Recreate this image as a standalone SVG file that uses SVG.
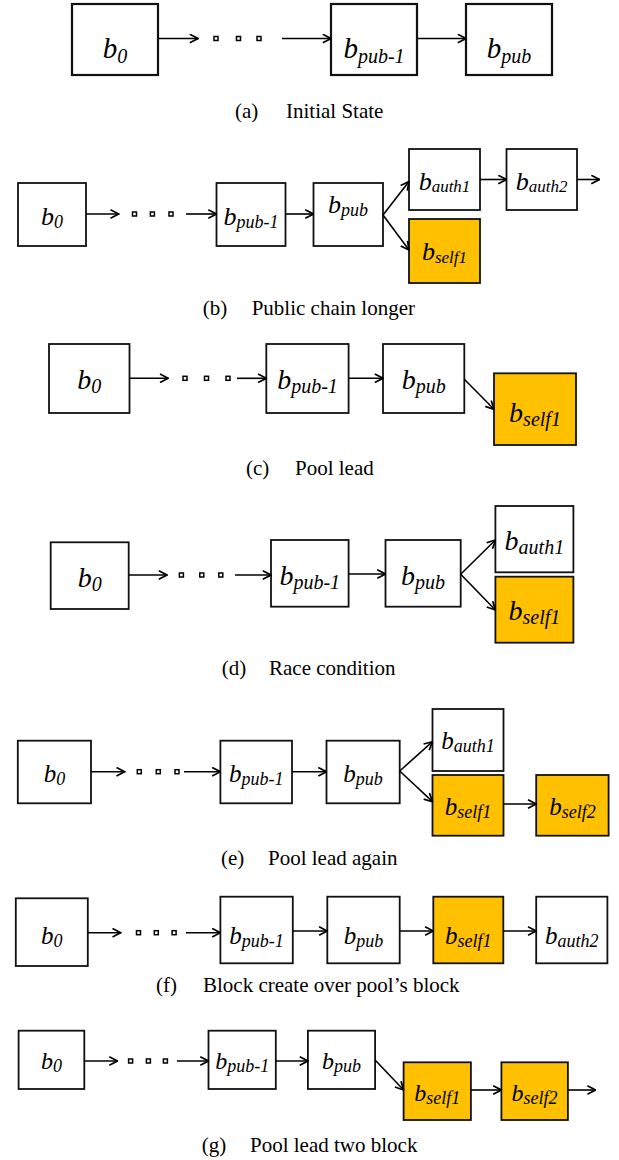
<svg xmlns="http://www.w3.org/2000/svg" width="619" height="1160" viewBox="0 0 619 1160">
<style>
.box{fill:#fff;stroke:#111;stroke-width:1.8}
.self{fill:#FFC000}
.thick{stroke-width:2.2}
.lbl{font-family:"Liberation Serif","Times New Roman",serif;font-style:italic;text-anchor:middle;fill:#000}
.cap{font-family:"Liberation Serif","Times New Roman",serif;font-size:21px;fill:#000}
.edge{stroke:#000;stroke-width:1.6;fill:none;marker-end:url(#ah)}
.dot{fill:#fff;stroke:#000;stroke-width:1.5}
</style>
<defs>
<marker id="ah" viewBox="0 0 10 10" refX="9.2" refY="5" markerWidth="10" markerHeight="10" markerUnits="userSpaceOnUse" orient="auto">
<path d="M1,0.8 L9.2,5 L1,9.2" fill="none" stroke="#000" stroke-width="1.7"/>
</marker>
</defs>
<rect width="619" height="1160" fill="#fff"/>

<!-- Panel (a) -->
<g id="a-b0"><rect class="box thick" x="72" y="4" width="86" height="71"/><text class="lbl" x="115" y="58" font-size="29">b<tspan font-size="20" dy="5">0</tspan></text></g>
<g id="a-bpub1"><rect class="box thick" x="331" y="4" width="86" height="71"/><text class="lbl" x="374" y="58" font-size="29">b<tspan font-size="20" dy="5">pub-1</tspan></text></g>
<g id="a-bpub"><rect class="box thick" x="466" y="4" width="86" height="71"/><text class="lbl" x="509" y="58" font-size="29">b<tspan font-size="20" dy="5">pub</tspan></text></g>
<g id="a-edges">
<path class="edge" stroke-width="2" d="M158,38.5 H198"/>
<path class="edge" stroke-width="2" d="M282,38.5 H331"/>
<path class="edge" stroke-width="2" d="M417,38.5 H466"/>
<rect class="dot" x="214" y="36.5" width="4" height="4"/><rect class="dot" x="236.5" y="36.5" width="4" height="4"/><rect class="dot" x="257" y="36.5" width="4" height="4"/>
</g>
<text class="cap" y="117.7"><tspan x="235">(a)</tspan><tspan x="286">Initial State</tspan></text>

<!-- Panel (b) -->
<g id="b-b0"><rect class="box" x="18" y="183" width="68" height="63"/><text class="lbl" x="52" y="225" font-size="26">b<tspan font-size="18" dy="2.5">0</tspan></text></g>
<g id="b-bpub1"><rect class="box" x="216.5" y="183" width="69" height="63"/><text class="lbl" x="251" y="225" font-size="26">b<tspan font-size="18" dy="2.5">pub-1</tspan></text></g>
<g id="b-bpub"><rect class="box" x="313.5" y="183" width="69.5" height="63"/><text class="lbl" x="348" y="213" font-size="26">b<tspan font-size="18" dy="3">pub</tspan></text></g>
<g id="b-bauth1"><rect class="box" x="409" y="149" width="71" height="61"/><text class="lbl" x="444.5" y="190" font-size="26">b<tspan font-size="17" dy="2">auth1</tspan></text></g>
<g id="b-bauth2"><rect class="box" x="506.5" y="149" width="70.5" height="61"/><text class="lbl" x="541.7" y="190" font-size="26">b<tspan font-size="17" dy="2">auth2</tspan></text></g>
<g id="b-bself1"><rect class="box self" x="409" y="219" width="71" height="64"/><text class="lbl" x="444.5" y="260" font-size="26">b<tspan font-size="17" dy="3">self1</tspan></text></g>
<g id="b-edges">
<path class="edge" d="M86,214 H118.7"/>
<path class="edge" d="M186,214 H216.5"/>
<path class="edge" d="M285.5,214 H313.5"/>
<path class="edge" d="M383,215 L409,181.5"/>
<path class="edge" d="M383,215 L409,250"/>
<path class="edge" d="M480,179.5 H506.5"/>
<path class="edge" d="M577,179.5 H599.5"/>
<rect class="dot" x="132.5" y="212" width="4" height="4"/><rect class="dot" x="150.4" y="212" width="4" height="4"/><rect class="dot" x="169" y="212" width="4" height="4"/>
</g>
<text class="cap" y="315"><tspan x="202.7">(b)</tspan><tspan x="251.7">Public chain longer</tspan></text>

<!-- Panel (c) -->
<g id="c-b0"><rect class="box" x="49" y="344" width="80.5" height="69"/><text class="lbl" x="89.2" y="389" font-size="28">b<tspan font-size="20" dy="4">0</tspan></text></g>
<g id="c-bpub1"><rect class="box" x="266.3" y="344" width="82.3" height="69"/><text class="lbl" x="307.5" y="389" font-size="28">b<tspan font-size="20" dy="4">pub-1</tspan></text></g>
<g id="c-bpub"><rect class="box" x="383" y="344" width="81.3" height="69"/><text class="lbl" x="423.7" y="389" font-size="28">b<tspan font-size="20" dy="4">pub</tspan></text></g>
<g id="c-bself1"><rect class="box self" x="494" y="373.3" width="82" height="71.7"/><text class="lbl" x="535" y="421.7" font-size="28">b<tspan font-size="20" dy="4">self1</tspan></text></g>
<g id="c-edges">
<path class="edge" d="M129.5,378.3 H168.2"/>
<path class="edge" d="M237,378.3 H266.3"/>
<path class="edge" d="M348.6,378.3 H383"/>
<path class="edge" d="M464.3,379.3 L494,409.3"/>
<rect class="dot" x="183" y="376.3" width="4" height="4"/><rect class="dot" x="204.5" y="376.3" width="4" height="4"/><rect class="dot" x="226" y="376.3" width="4" height="4"/>
</g>
<text class="cap" y="475"><tspan x="246">(c)</tspan><tspan x="295">Pool lead</tspan></text>

<!-- Panel (d) -->
<g id="d-b0"><rect class="box" x="50.7" y="542.3" width="78" height="66.7"/><text class="lbl" x="89.7" y="586.7" font-size="28">b<tspan font-size="20" dy="4">0</tspan></text></g>
<g id="d-bpub1"><rect class="box" x="271" y="540" width="77.6" height="66.7"/><text class="lbl" x="309.8" y="585" font-size="28">b<tspan font-size="20" dy="4">pub-1</tspan></text></g>
<g id="d-bpub"><rect class="box" x="385.5" y="540" width="75.2" height="66.7"/><text class="lbl" x="423" y="585" font-size="28">b<tspan font-size="20" dy="4">pub</tspan></text></g>
<g id="d-bauth1"><rect class="box" x="495.4" y="506" width="78" height="66.3"/><text class="lbl" x="534.4" y="550" font-size="28">b<tspan font-size="20" dy="4">auth1</tspan></text></g>
<g id="d-bself1"><rect class="box self" x="495.4" y="576.7" width="78" height="66"/><text class="lbl" x="534.4" y="620" font-size="28">b<tspan font-size="20" dy="4">self1</tspan></text></g>
<g id="d-edges">
<path class="edge" d="M128.8,575 H167"/>
<path class="edge" d="M235,575 H271"/>
<path class="edge" d="M348.6,574 H385.5"/>
<path class="edge" d="M460.7,574.3 L495.4,540"/>
<path class="edge" d="M460.7,574.3 L495.4,610"/>
<rect class="dot" x="179.4" y="573" width="4" height="4"/><rect class="dot" x="199.8" y="573" width="4" height="4"/><rect class="dot" x="218.8" y="573" width="4" height="4"/>
</g>
<text class="cap" y="675"><tspan x="221.7">(d)</tspan><tspan x="269">Race condition</tspan></text>

<!-- Panel (e) -->
<g id="e-b0"><rect class="box" x="17.8" y="740.7" width="73.2" height="62.6"/><text class="lbl" x="54.4" y="782" font-size="25">b<tspan font-size="18" dy="3">0</tspan></text></g>
<g id="e-bpub1"><rect class="box" x="220.4" y="740.7" width="71.6" height="62.6"/><text class="lbl" x="256.2" y="782" font-size="25">b<tspan font-size="18" dy="3">pub-1</tspan></text></g>
<g id="e-bpub"><rect class="box" x="326.5" y="740.7" width="73.2" height="62.6"/><text class="lbl" x="363" y="782" font-size="25">b<tspan font-size="18" dy="3">pub</tspan></text></g>
<g id="e-bauth1"><rect class="box" x="432.5" y="709" width="71" height="62"/><text class="lbl" x="468" y="749" font-size="25">b<tspan font-size="18" dy="3">auth1</tspan></text></g>
<g id="e-bself1"><rect class="box self" x="432.5" y="775" width="71" height="60.7"/><text class="lbl" x="468" y="815" font-size="25">b<tspan font-size="18" dy="3">self1</tspan></text></g>
<g id="e-bself2"><rect class="box self" x="536.2" y="775" width="72.4" height="60.7"/><text class="lbl" x="572.4" y="815" font-size="25">b<tspan font-size="18" dy="3">self2</tspan></text></g>
<g id="e-edges">
<path class="edge" d="M91,771.7 H124.7"/>
<path class="edge" d="M184,771.7 H220.4"/>
<path class="edge" d="M292,771.7 H326.5"/>
<path class="edge" d="M399.7,771 L432.5,741.7"/>
<path class="edge" d="M399.7,771 L432.5,801.7"/>
<path class="edge" d="M503.5,804 H536.2"/>
<rect class="dot" x="137.3" y="769.7" width="4" height="4"/><rect class="dot" x="156.3" y="769.7" width="4" height="4"/><rect class="dot" x="175" y="769.7" width="4" height="4"/>
</g>
<text class="cap" y="865"><tspan x="221">(e)</tspan><tspan x="268">Pool lead again</tspan></text>

<!-- Panel (f) -->
<g id="f-b0"><rect class="box" x="15.8" y="898.3" width="72" height="67.7"/><text class="lbl" x="51.8" y="944" font-size="25">b<tspan font-size="18" dy="3">0</tspan></text></g>
<g id="f-bpub1"><rect class="box" x="220.4" y="896.7" width="72.4" height="66.6"/><text class="lbl" x="256.6" y="943.5" font-size="25">b<tspan font-size="18" dy="3">pub-1</tspan></text></g>
<g id="f-bpub"><rect class="box" x="327.3" y="896.7" width="72.4" height="66.6"/><text class="lbl" x="363.5" y="943.5" font-size="25">b<tspan font-size="18" dy="3">pub</tspan></text></g>
<g id="f-bself1"><rect class="box self" x="433.3" y="896.7" width="70" height="66.6"/><text class="lbl" x="468.3" y="943.5" font-size="25">b<tspan font-size="18" dy="3">self1</tspan></text></g>
<g id="f-bauth2"><rect class="box" x="536.2" y="896.7" width="71.2" height="66.6"/><text class="lbl" x="571.8" y="943.5" font-size="25">b<tspan font-size="18" dy="3">auth2</tspan></text></g>
<g id="f-edges">
<path class="edge" d="M87.9,932.7 H120.7"/>
<path class="edge" d="M186,932.7 H220.4"/>
<path class="edge" d="M292.8,931 H327.3"/>
<path class="edge" d="M399.7,931 H433.3"/>
<path class="edge" d="M503.3,931 H536.2"/>
<rect class="dot" x="136.5" y="930.7" width="4" height="4"/><rect class="dot" x="154.3" y="930.7" width="4" height="4"/><rect class="dot" x="172.1" y="930.7" width="4" height="4"/>
</g>
<text class="cap" y="991.7"><tspan x="156">(f)</tspan><tspan x="203">Block create over pool’s block</tspan></text>

<!-- Panel (g) -->
<g id="g-b0"><rect class="box" x="18.6" y="1030.7" width="65.7" height="58.3"/><text class="lbl" x="51.4" y="1069" font-size="24">b<tspan font-size="18" dy="3">0</tspan></text></g>
<g id="g-bpub1"><rect class="box" x="208.5" y="1030.7" width="67.3" height="58.3"/><text class="lbl" x="242.2" y="1069" font-size="24">b<tspan font-size="18" dy="3">pub-1</tspan></text></g>
<g id="g-bpub"><rect class="box" x="307.9" y="1030.7" width="67.2" height="58.3"/><text class="lbl" x="341.5" y="1069" font-size="24">b<tspan font-size="18" dy="3">pub</tspan></text></g>
<g id="g-bself1"><rect class="box self" x="403.6" y="1062.3" width="67.3" height="57.7"/><text class="lbl" x="437.2" y="1101" font-size="24">b<tspan font-size="18" dy="3">self1</tspan></text></g>
<g id="g-bself2"><rect class="box self" x="501.4" y="1062.3" width="66.5" height="57.7"/><text class="lbl" x="534.6" y="1101" font-size="24">b<tspan font-size="18" dy="3">self2</tspan></text></g>
<g id="g-edges">
<path class="edge" d="M84.3,1061 H117.5"/>
<path class="edge" d="M176.9,1061 H208.5"/>
<path class="edge" d="M275.8,1061 H307.9"/>
<path class="edge" d="M375.1,1060 L403.6,1090"/>
<path class="edge" d="M470.9,1090 H501.4"/>
<path class="edge" d="M567.9,1090 H595.6"/>
<rect class="dot" x="128.6" y="1059" width="4" height="4"/><rect class="dot" x="146.4" y="1059" width="4" height="4"/><rect class="dot" x="163.4" y="1059" width="4" height="4"/>
</g>
<text class="cap" y="1151.7"><tspan x="201.7">(g)</tspan><tspan x="250">Pool lead two block</tspan></text>
</svg>
